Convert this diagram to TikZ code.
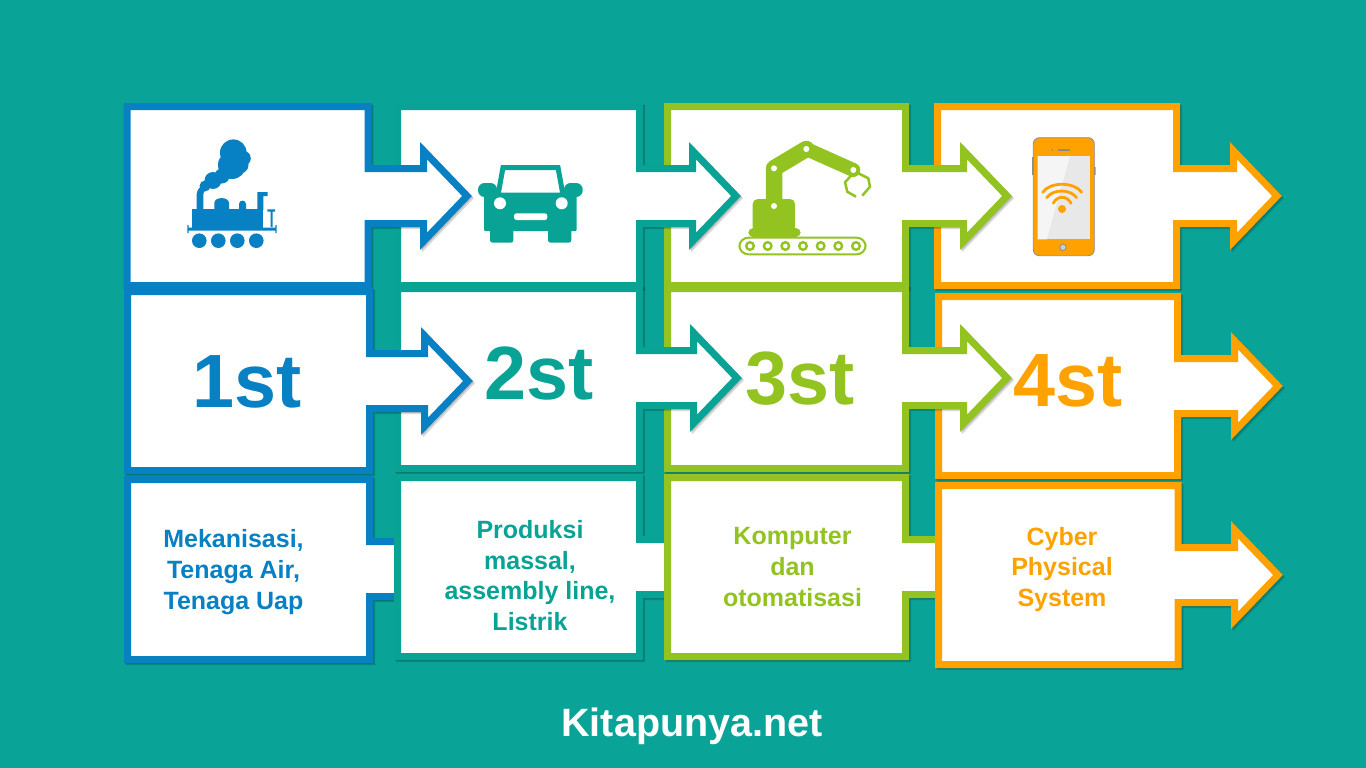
\documentclass[tikz,border=0pt]{standalone}
\usepackage{fontspec}
\setmainfont{Liberation Sans}
\usepackage{xcolor}
\usepackage{tikz}
\usetikzlibrary{arrows.meta,positioning,calc}
\definecolor{eraBack}{RGB}{10,163,151}
\definecolor{eraBlue}{RGB}{8,128,196}
\definecolor{eraTeal}{RGB}{9,163,150}
\definecolor{eraGreen}{RGB}{146,195,32}
\definecolor{eraOrange}{RGB}{255,162,0}
\definecolor{eraGray}{RGB}{140,140,140}
\newcommand{\arrowoutline}[6]{(#1,#2) -- (#3,#2) -- (#3,#5-27.5) -- (#6,#5-27.5) -- (#6,#5-45.3) -- (#6+43.5,#5) -- (#6,#5+45.3) -- (#6,#5+27.5) -- (#3,#5+27.5) -- (#3,#4) -- (#1,#4) -- cycle}

\begin{document}
\begin{tikzpicture}[
    x=1pt, y=-1pt,
    arrowbox/.style={fill=white, line width=7pt},
    arrowshadow/.style={draw=black, opacity=0.14, line width=7pt},
    bigtitle/.style={font=\fontsize{75.5}{76}\selectfont\bfseries, anchor=base},
    bodytext/.style={font=\fontsize{25}{30.8}\selectfont\bfseries, align=center},
    pin/.style={fill=white}
]
\useasboundingbox (0,0) rectangle (1366,768);
\fill[eraBack] (0,0) rectangle (1366,768);

\foreach \c/\l/\t/\r/\b/\m/\e in {
  eraOrange/937.5/106.5/1176.5/285.5/196/1233.5,
  eraGreen/667.5/106.5/905.5/285.5/196/963.5,
  eraTeal/397.5/106.5/639.5/285.5/196/692.5,
  eraBlue/127/106.5/368/285.5/196/423.5,
  eraOrange/938.5/296.5/1177.5/475.5/386/1234.5,
  eraGreen/667.5/288.5/905.5/468.5/378/963.5,
  eraTeal/397.5/288.5/639.5/468.5/378/693.5,
  eraBlue/127.5/291.5/369.5/470.5/381/424.5,
  eraBlue/127.5/479.5/369.5/659.5/569/424.5,
  eraTeal/397.5/477.5/639.5/656.5/567/693.5,
  eraGreen/667.5/477.5/905.5/656.5/567/963.5,
  eraOrange/938.5/485.5/1178/664.5/575/1234.5} {
  \draw[arrowshadow, shift={(1,1)}] \arrowoutline{\l}{\t}{\r}{\b}{\m}{\e};
  \draw[arrowshadow, shift={(2.2,2.2)}] \arrowoutline{\l}{\t}{\r}{\b}{\m}{\e};
  \draw[arrowbox, draw=\c] \arrowoutline{\l}{\t}{\r}{\b}{\m}{\e};
}

\foreach \x/\y/\n/\c/\t in {247/407/one/eraBlue/1st,539/399/two/eraTeal/2st,800/404/three/eraGreen/3st,1068/406/four/eraOrange/4st} {
  \node[bigtitle, text=\c] (title\n) at (\x,\y) {\t};
}
\foreach \x/\y/\n/\c/\t in {
  233.5/572/one/eraBlue/{Mekanisasi,\\Tenaga Air,\\Tenaga Uap},
  530/575.5/two/eraTeal/{Produksi\\massal,\\assembly line,\\Listrik},
  792.5/567/three/eraGreen/{Komputer\\dan\\otomatisasi},
  1062/569.5/four/eraOrange/{Cyber\\Physical\\System}} {
  \node[bodytext, text=\c] (body\n) at (\x,\y) {\t};
}
\node[font=\fontsize{39.5}{40}\selectfont\bfseries, text=white, anchor=base] (site) at (692,736) {Kitapunya.net};

\fill[eraBlue] (233.3,152.7) circle (13.3) (243.3,158.3) circle (7.5) (232,165) circle (14) (240,165) circle (8.5) (222,176) circle (7.5) (213,180.5) circle (8.5) (205,186) circle (5.5);
\fill[eraBlue] (196.7,210) -- (196.7,194) .. controls (197,190) and (200,186) .. (204,185) -- (206,190) .. controls (204,191) and (203.3,192) .. (203.3,195) -- (203.3,210) -- cycle;
\fill[eraBlue] (191.7,209) rectangle (263.3,230);
\fill[eraBlue] (214.3,210) -- (214.3,203) .. controls (214.3,196.5) and (229,196.5) .. (229,203) -- (229,210) -- cycle;
\fill[eraBlue] (239,210) -- (239,204) .. controls (239,199.5) and (246,199.5) .. (246,204) -- (246,210) -- cycle;
\fill[eraBlue] (257.3,210) -- (257.3,192) -- (267.7,192) -- (267.7,196) -- (263.3,196) -- (263.3,210) -- cycle;
\fill[eraBlue] (267.3,209.3) rectangle (275,211.7) (270.7,211.7) rectangle (272.7,227);
\fill[eraBlue] (187.3,227.5) rectangle (276.7,230.5) (187.3,225) rectangle (188.7,233) (275.3,225) rectangle (276.7,233);
\foreach \x in {199.3,218.3,237.3,256.3} {
  \fill[eraBlue] (\x,240.7) circle (7.3);
}

\fill[eraTeal, rounded corners=1pt] (484,193) rectangle (576.7,231);
\draw[eraTeal, line width=5pt, line join=miter] (503,167.5) -- (558,167.5) -- (563,195) -- (498,195) -- cycle;
\fill[eraTeal, rounded corners=6.5pt] (478,183) rectangle (497,197) (564,183) rectangle (582.7,197);
\fill[eraTeal, rounded corners=2.5pt] (490,225) rectangle (513.3,242.7) (548,225) rectangle (571.3,242.7);
\fill[pin] (500,203.3) circle (6) (561.7,203.3) circle (6);
\fill[pin, rounded corners=2.5pt] (514,213.3) rectangle (547.3,220);

\draw[eraGreen, line width=2pt, rounded corners=9pt] (739.3,237.7) rectangle (865.7,254.3);
\foreach \x in {750,767.7,785.3,803,820.7,838.3,856} {
  \draw[eraGreen, line width=2.4pt] (\x,246) circle (3.8);
}
\fill[eraGreen, rounded corners=5pt] (748.3,237) -- (748.3,228) -- (800.7,228) -- (800.7,237) -- cycle;
\fill[eraGreen, rounded corners=5pt] (752.7,232) -- (752.7,199) -- (795,199) -- (795,232) -- cycle;
\draw[eraGreen, line width=16.5pt, line cap=round, line join=round] (774,200) -- (774,168.3) -- (806.3,149);
\draw[eraGreen, line width=14pt, line cap=round] (806.3,149) -- (853.3,170);
\fill[pin] (774,168.3) circle (3) (806.3,149) circle (3) (853.3,170) circle (3) (774,206) circle (3);
\draw[eraGreen, line width=2.5pt] (851.7,175) -- (845,182.3) -- (847.3,191.7) -- (856,196.7);
\draw[eraGreen, line width=2.5pt] (858.3,173.3) -- (868.3,178.3) -- (870,186.7) -- (862.3,195.7);

\fill[eraGray] (1032,157) rectangle (1034,175) (1094,167) rectangle (1095.5,175);
\draw[eraGray, fill=eraOrange, line width=0.8pt, rounded corners=6pt] (1033.3,137.7) rectangle (1094.3,255.7);
\fill[black!9] (1037.7,156) rectangle (1090,239.3);
\fill[black!4] (1037.7,156) -- (1070,156) -- (1046.7,239.3) -- (1037.7,239.3) -- cycle;
\draw[eraGray, line width=1.5pt] (1058.3,150) -- (1070,150);
\fill[eraGray] (1052.3,150) circle (0.9);
\draw[eraGray, fill=black!20, line width=0.8pt] (1063,247.3) circle (3.2);
\fill[eraOrange] (1062,209) circle (4);
\draw[eraOrange, line width=2.8pt, line cap=round] (1042.7,192.3) .. controls (1050,181.6) and (1074,181.6) .. (1081.7,192.3);
\draw[eraOrange, line width=2.8pt, line cap=round] (1046.7,197.7) .. controls (1053,188.8) and (1070,188.8) .. (1076.7,197.7);
\draw[eraOrange, line width=2.8pt, line cap=round] (1053.3,203.3) .. controls (1057,195.3) and (1067,195.3) .. (1071,203.3);
\end{tikzpicture}
\end{document}
